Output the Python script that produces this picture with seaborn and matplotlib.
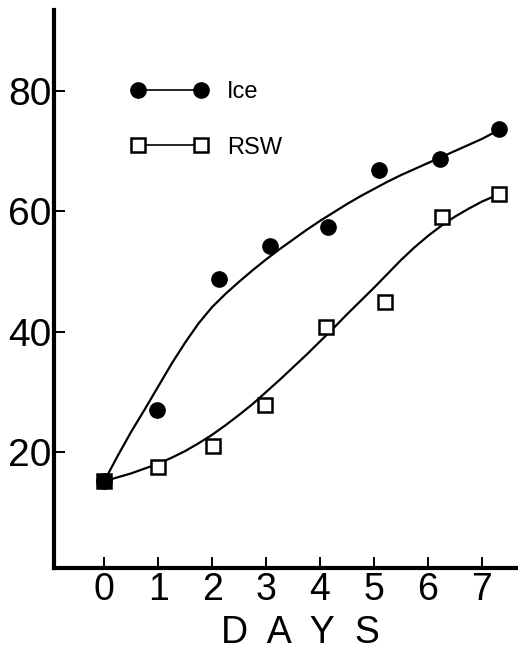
import matplotlib
matplotlib.use("Agg")
import matplotlib.pyplot as plt
import seaborn as sns
from matplotlib.lines import Line2D

# ---- data ----
ice_days = [0, 0.98, 2.13, 3.07, 4.15, 5.09, 6.22, 7.32]
ice_vals = [15.2, 27.0, 48.8, 54.2, 57.4, 66.8, 68.6, 73.7]
rsw_days = [0, 1.0, 2.02, 2.98, 4.11, 5.2, 6.26, 7.31]
rsw_vals = [15.2, 17.6, 21.0, 27.9, 40.8, 44.9, 59.1, 62.8]

# smooth fitted curves as drawn in the reference (read at regular steps)
ice_curve_x = [0, 0.25, 0.5, 0.75, 1.0, 1.25, 1.5, 1.75, 2.0, 2.25, 2.5, 2.75,
               3.0, 3.25, 3.5, 3.75, 4.0, 4.25, 4.5, 4.75, 5.0, 5.25, 5.5, 5.75,
               6.0, 6.25, 6.5, 6.75, 7.0, 7.32]
ice_curve_y = [15.2, 19.4, 23.4, 27.1, 30.9, 34.7, 38.2, 41.4, 44.1, 46.3, 48.3, 50.2,
               52.0, 53.7, 55.3, 56.9, 58.4, 59.8, 61.2, 62.5, 63.7, 64.9, 66.0, 67.0,
               68.0, 69.0, 70.0, 71.0, 72.0, 73.5]
rsw_curve_x = [0, 0.25, 0.5, 0.75, 1.0, 1.25, 1.5, 1.75, 2.0, 2.25, 2.5, 2.75,
               3.0, 3.25, 3.5, 3.75, 4.0, 4.25, 4.5, 4.75, 5.0, 5.25, 5.5, 5.75,
               6.0, 6.25, 6.5, 6.75, 7.0, 7.31]
rsw_curve_y = [15.2, 15.85, 16.5, 17.3, 18.1, 19.1, 20.2, 21.5, 22.9, 24.5, 26.2, 28.0,
               30.0, 32.0, 34.1, 36.2, 38.4, 40.6, 42.9, 45.1, 47.3, 49.6, 51.9, 54.0,
               55.9, 57.6, 59.1, 60.4, 61.6, 62.8]

x_ticks = [0, 1, 2, 3, 4, 5, 6, 7]
y_ticks = [20, 40, 60, 80]
series_labels = ["Ice", "RSW"]

sns.set_theme(style="ticks")
plt.rcParams["font.family"] = ["Liberation Sans Narrow", "Liberation Sans", "DejaVu Sans"]
plt.rcParams["text.color"] = "black"
plt.rcParams["xtick.color"] = "black"
plt.rcParams["ytick.color"] = "black"
plt.rcParams["axes.labelcolor"] = "black"

fig = plt.figure(figsize=(5.18, 6.52), dpi=100)
ax = fig.add_axes([54 / 518, 1 - 568 / 652, 1 - 54 / 518, (568 - 10) / 652])

sns.lineplot(x=ice_curve_x, y=ice_curve_y, ax=ax, color="black", lw=1.6, sort=False)
sns.lineplot(x=rsw_curve_x, y=rsw_curve_y, ax=ax, color="black", lw=1.6, sort=False)

ax.plot(rsw_days, rsw_vals, ls="none", marker="s", ms=10, mfc="white",
        mec="black", mew=1.8, zorder=4)
ax.plot(ice_days, ice_vals, ls="none", marker="o", ms=11, mfc="black",
        mec="black", zorder=5)

ax.set_xlim(-0.93, 7.67)
ax.set_ylim(0.8, 93.4)
ax.set_xticks(x_ticks)
ax.set_yticks(y_ticks)
ax.set_xticklabels([str(v) for v in x_ticks], fontsize=27, color="black")
ax.set_yticklabels([str(v) for v in y_ticks], fontsize=28, color="black")
ax.tick_params(axis="both", direction="in", length=8, width=1.4, color="black")
ax.tick_params(axis="x", pad=3)
ax.tick_params(axis="y", pad=2)

for s in ["top", "right"]:
    ax.spines[s].set_visible(False)
for s in ["left", "bottom"]:
    ax.spines[s].set_linewidth(3)
    ax.spines[s].set_color("black")

ax.set_xlabel("D  A  Y  S", fontsize=27, color="black")
ax.xaxis.set_label_coords((300 - 54) / 464, -(633 - 568) / 558, transform=ax.transAxes)
ax.xaxis.label.set_va("center")
ax.set_ylabel("")

handles = [
    Line2D([], [], color="black", lw=1.2, marker="o", ms=11, mfc="black", mec="black"),
    Line2D([], [], color="black", lw=1.2, marker="s", ms=9.5, mfc="white", mec="black", mew=1.8),
]
leg = ax.legend(handles, series_labels, numpoints=2, frameon=False,
                loc="upper left", bbox_to_anchor=(131 / 518, 1 - 81 / 652),
                bbox_transform=fig.transFigure, borderpad=0, borderaxespad=0,
                handlelength=3.27, handletextpad=0.8, labelspacing=1.42,
                prop={"family": "Liberation Sans", "size": 17})
for t in leg.get_texts():
    t.set_color("black")

fig.savefig("out.png", dpi=100, facecolor="white")
